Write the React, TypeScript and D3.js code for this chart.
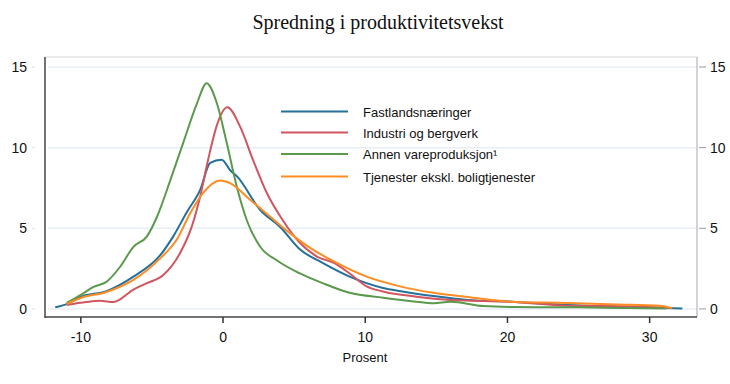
import React from "react";
import * as d3 from "d3";

const title = "Spredning i produktivitetsvekst";
const xLabel = "Prosent";
const xTicks = [-10, 0, 10, 20, 30];
const yTicks = [0, 5, 10, 15];

const seriesNames = [
  "Fastlandsnæringer",
  "Industri og bergverk",
  "Annen vareproduksjon¹",
  "Tjenester ekskl. boligtjenester",
];
const seriesColors = ["#25709a", "#d0565f", "#5b9a4c", "#fd8c22"];

// [prosent, tetthet]
const fastland = [
  [-11.8, 0.1], [-11, 0.3], [-10, 0.75], [-8.2, 1.1], [-6.3, 2.0], [-4.4, 3.35], [-3.5, 4.5],
  [-2.55, 6.0], [-1.6, 7.4], [-0.9, 9.05], [-0.1, 9.25], [0.5, 8.6], [1.0, 8.2], [2.6, 6.15],
  [4.0, 5.1], [5.4, 3.7], [7.0, 2.85], [8.9, 2.0], [11.25, 1.3], [12.5, 1.1], [14.8, 0.8],
  [17.2, 0.56], [20.2, 0.45], [24.2, 0.25], [28.8, 0.12], [32.3, 0.03],
];
const industri = [
  [-11, 0.25], [-9.6, 0.43], [-8.65, 0.5], [-7.7, 0.43], [-6.3, 1.2], [-5.35, 1.6], [-4.2, 2.1],
  [-3.0, 3.5], [-2.2, 5.1], [-1.6, 7.0], [-1.05, 9.25], [-0.43, 11.4], [0.3, 12.5], [1.2, 11.3],
  [2.1, 9.25], [3.07, 7.2], [4.2, 5.5], [5.4, 4.1], [6.6, 3.25], [7.8, 2.85], [8.9, 2.2],
  [10.1, 1.4], [11.25, 1.08], [13.6, 0.76], [16, 0.56], [20.2, 0.45], [24.2, 0.2], [28.8, 0.15],
  [31.4, 0.05],
];
const annenVare = [
  [-11, 0.37], [-10, 0.87], [-9.1, 1.37], [-8.2, 1.68], [-7.25, 2.6], [-6.3, 3.85], [-5.35, 4.5],
  [-4.65, 5.7], [-3.7, 8.0], [-2.8, 10.3], [-1.85, 12.7], [-1.15, 14.0], [-0.45, 12.8],
  [0.26, 10.3], [0.96, 7.6], [1.67, 5.5], [2.6, 3.87], [3.8, 3.0], [5.4, 2.2], [7.0, 1.6],
  [8.9, 1.0], [11.25, 0.7], [13.6, 0.45], [14.8, 0.35], [16, 0.45], [18.3, 0.18], [20.5, 0.12],
  [25, 0.1], [28, 0.06], [31.2, 0.02],
];
const tjenester = [
  [-11, 0.3], [-10, 0.68], [-8.2, 1.05], [-6.3, 1.8], [-4.4, 3.15], [-3.25, 4.3], [-2.3, 5.95],
  [-1.4, 7.2], [-0.2, 7.97], [0.5, 7.8], [1.9, 6.77], [3.3, 5.73], [4.7, 4.7], [6.1, 3.8],
  [8.0, 2.85], [10.1, 2.0], [12.45, 1.4], [14.8, 1.0], [17.2, 0.74], [20.2, 0.45], [24.2, 0.37],
  [27.7, 0.28], [30.7, 0.2], [31.6, 0.05],
];
const allSeries = [fastland, industri, annenVare, tjenester];

const width = 730;
const height = 384;
const plot = { left: 45, right: 697, top: 57, bottom: 317 };

export default function App() {
  const x = d3.scaleLinear().domain([-12.52, 33.33]).range([plot.left, plot.right]);
  const y = d3.scaleLinear().domain([-0.5, 15.62]).range([plot.bottom, plot.top]);

  const line = d3
    .line<number[]>()
    .x((d) => x(d[0]))
    .y((d) => y(d[1]))
    .curve(d3.curveMonotoneX);

  const sans = "Arial, 'Liberation Sans', sans-serif";

  return (
    <svg
      width={width}
      height={height}
      style={{ position: "absolute", left: 0, top: 0, background: "#fff" }}
    >
      <text
        x={378}
        y={29}
        textAnchor="middle"
        fontFamily="'Times New Roman', 'Liberation Serif', serif"
        fontSize={20}
        fill="#111"
      >
        {title}
      </text>

      {/* gridlines */}
      {yTicks.map((t) => (
        <line key={"g" + t} x1={plot.left + 3} x2={plot.right} y1={y(t)} y2={y(t)} stroke="#e6eef6" strokeWidth={1.5} />
      ))}

      {/* frame */}
      <line x1={plot.left} x2={plot.right} y1={plot.top} y2={plot.top} stroke="#d4d4d4" />
      <line x1={plot.right} x2={plot.right} y1={plot.top} y2={plot.bottom} stroke="#a8a8a8" />
      <line x1={plot.left} x2={plot.left} y1={plot.top} y2={plot.bottom + 1} stroke="#444" strokeWidth={1.5} />
      <line x1={plot.left} x2={plot.right} y1={plot.bottom} y2={plot.bottom} stroke="#444" strokeWidth={1.5} />

      {/* left axis */}
      {yTicks.map((t) => (
        <g key={"l" + t}>
          <line x1={32} x2={35} y1={y(t)} y2={y(t)} stroke="#d8e2ec" />
          <text x={27} y={y(t) + 5} textAnchor="end" fontFamily={sans} fontSize={14} fill="#111">
            {t}
          </text>
        </g>
      ))}

      {/* right axis */}
      {yTicks.map((t) => (
        <g key={"r" + t}>
          <line x1={plot.right + 2} x2={plot.right + 9} y1={y(t)} y2={y(t)} stroke="#999" />
          <text x={710} y={y(t) + 5} textAnchor="start" fontFamily={sans} fontSize={14} fill="#111">
            {t}
          </text>
        </g>
      ))}

      {/* bottom axis */}
      {xTicks.map((t) => (
        <g key={"b" + t}>
          <line x1={x(t)} x2={x(t)} y1={plot.bottom} y2={plot.bottom + 6} stroke="#333" strokeWidth={1.5} />
          <text x={x(t)} y={342} textAnchor="middle" fontFamily={sans} fontSize={14} fill="#111">
            {t}
          </text>
        </g>
      ))}
      <text x={365} y={362} textAnchor="middle" fontFamily={sans} fontSize={13} fill="#111">
        {xLabel}
      </text>

      {/* series */}
      {allSeries.map((s, i) => (
        <path
          key={"s" + i}
          d={line(s) || ""}
          fill="none"
          stroke={seriesColors[i]}
          strokeWidth={2}
          strokeLinejoin="round"
        />
      ))}

      {/* legend */}
      {seriesNames.map((name, i) => {
        const ly = [111.5, 132.5, 154, 176.5][i];
        return (
          <g key={"lg" + i}>
            <line x1={281} x2={348} y1={ly} y2={ly} stroke={seriesColors[i]} strokeWidth={2} />
            <text x={363} y={ly + 5} fontFamily={sans} fontSize={13} fill="#111">
              {name}
            </text>
          </g>
        );
      })}
    </svg>
  );
}
